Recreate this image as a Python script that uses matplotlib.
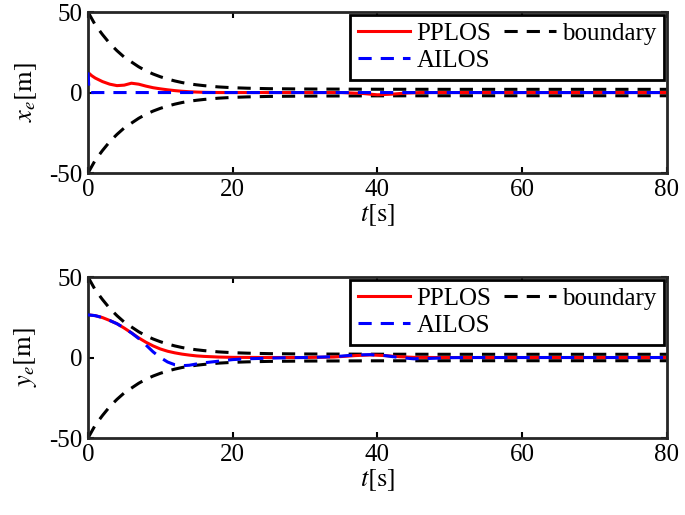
import numpy as np
import matplotlib
matplotlib.use('Agg')
import matplotlib.pyplot as plt

plt.rcParams["font.family"] = "Liberation Serif"
plt.rcParams["mathtext.fontset"] = "stix"
plt.rcParams["lines.scale_dashes"] = False
plt.rcParams["axes.unicode_minus"] = False

# boundary (upper half, lower is mirrored)
t_bound = [0, 1, 2, 3, 4, 5, 6, 7, 8, 9, 10, 11, 12, 13, 14, 15, 16, 17, 18,
           20, 22, 25, 30, 40, 50, 60, 70, 80]
bound = [50, 42, 36, 30.5, 26, 22, 19, 16, 13.5, 11.5, 9.8, 8.4, 7.2, 6.2, 5.4,
         4.8, 4.3, 3.9, 3.5, 3.0, 2.7, 2.4, 2.2, 2.05, 2.0, 2.0, 2.0, 2.0]

# x_e
t_xe_pp = [0, 0.5, 1, 2, 3, 4, 5, 6, 7, 8, 9, 10, 11, 12, 13, 14, 15, 16, 18,
           30, 35, 38, 40, 42, 44, 46, 80]
xe_pp = [12.5, 10.5, 9.0, 6.8, 5.2, 4.3, 4.6, 5.8, 5.2, 4.0, 3.0, 2.3, 1.7, 1.2,
         0.8, 0.5, 0.3, 0.15, 0.0, 0.0, 0.0, -0.6, -1.4, -1.0, -0.3, 0.0, 0.0]
t_xe_ai = [0, 0.15, 80]
xe_ai = [12.5, 0.0, 0.0]

# y_e
t_ye_pp = [0, 1, 2, 3, 4, 5, 6, 7, 8, 9, 10, 11, 12, 13, 14, 15, 16, 18, 20, 25,
           30, 34, 37, 39, 41, 43, 45, 48, 80]
ye_pp = [26.5, 26.0, 24.8, 23.0, 21.0, 18.3, 15.3, 12.2, 9.5, 7.2, 5.3, 3.9, 2.9,
         2.1, 1.5, 1.0, 0.7, 0.3, 0.1, 0.0, 0.0, 0.3, 1.2, 1.6, 1.2, 0.5, 0.1, 0.0, 0.0]
t_ye_ai = [0, 1, 2, 3, 4, 5, 6, 7, 8, 9, 10, 11, 12, 13, 14, 15, 16, 18, 20, 22,
           25, 28, 30, 34, 37, 39, 41, 43, 45, 47, 50, 53, 80]
ye_ai = [26.5, 26.0, 24.8, 23.0, 21.0, 18.3, 15.3, 11.8, 7.8, 3.5, 0.0, -2.8, -4.5,
         -5.1, -4.8, -4.0, -3.3, -2.3, -1.3, -0.8, -0.4, -0.1, 0.0, 0.5, 1.6, 1.8,
         1.2, 0.0, -0.8, -0.6, -0.1, 0.0, 0.0]

xticks = [0, 20, 40, 60, 80]
yticks = [-50, 0, 50]

fig = plt.figure(figsize=(6.85, 5.15), dpi=100)
ax1 = fig.add_axes([0.1285, 0.664, 0.845, 0.3126])
ax2 = fig.add_axes([0.1285, 0.1495, 0.845, 0.3126])

dash = (9.5, 6.5)
lw = 2.2
panels = [(ax1, t_xe_pp, xe_pp, t_xe_ai, xe_ai, r"$x_e[\mathrm{m}]$"),
          (ax2, t_ye_pp, ye_pp, t_ye_ai, ye_ai, r"$y_e[\mathrm{m}]$")]

for ax, tp, yp, ta, ya, lab in panels:
    tb = np.array(t_bound)
    b = np.array(bound)
    hb, = ax.plot(tb, b, color='k', lw=lw, dashes=dash, label='boundary', zorder=1)
    ax.plot(tb, -b, color='k', lw=lw, dashes=dash, zorder=1)
    hp, = ax.plot(tp, yp, color=(1, 0, 0), lw=lw, label='PPLOS', zorder=2)
    ha, = ax.plot(ta, ya, color=(0, 0, 1), lw=lw, dashes=dash, label='AILOS', zorder=3)

    ax.set_xlim(0, 80)
    ax.set_ylim(-50, 50)
    ax.set_xticks(xticks)
    ax.set_yticks(yticks)
    ax.tick_params(direction='in', top=True, right=True, length=4, width=1.5,
                   labelsize=18, pad=4)
    for s in ax.spines.values():
        s.set_linewidth(2.0)
        s.set_color('#262626')
    ax.set_xlabel(r"$t[\mathrm{s}]$", fontsize=19, labelpad=1)
    ax.set_ylabel(lab, fontsize=19, labelpad=7)

    leg = ax.legend(handles=[hp, ha, hb], ncol=2, loc='upper right', fontsize=18,
                    frameon=True, fancybox=False, framealpha=1, edgecolor='k',
                    borderaxespad=0.1, borderpad=0.3, labelspacing=0.2,
                    handlelength=2.1, handletextpad=0.25, columnspacing=0.5)
    leg.get_frame().set_linewidth(2.0)

plt.savefig("out.png", dpi=100)
plt.close()
